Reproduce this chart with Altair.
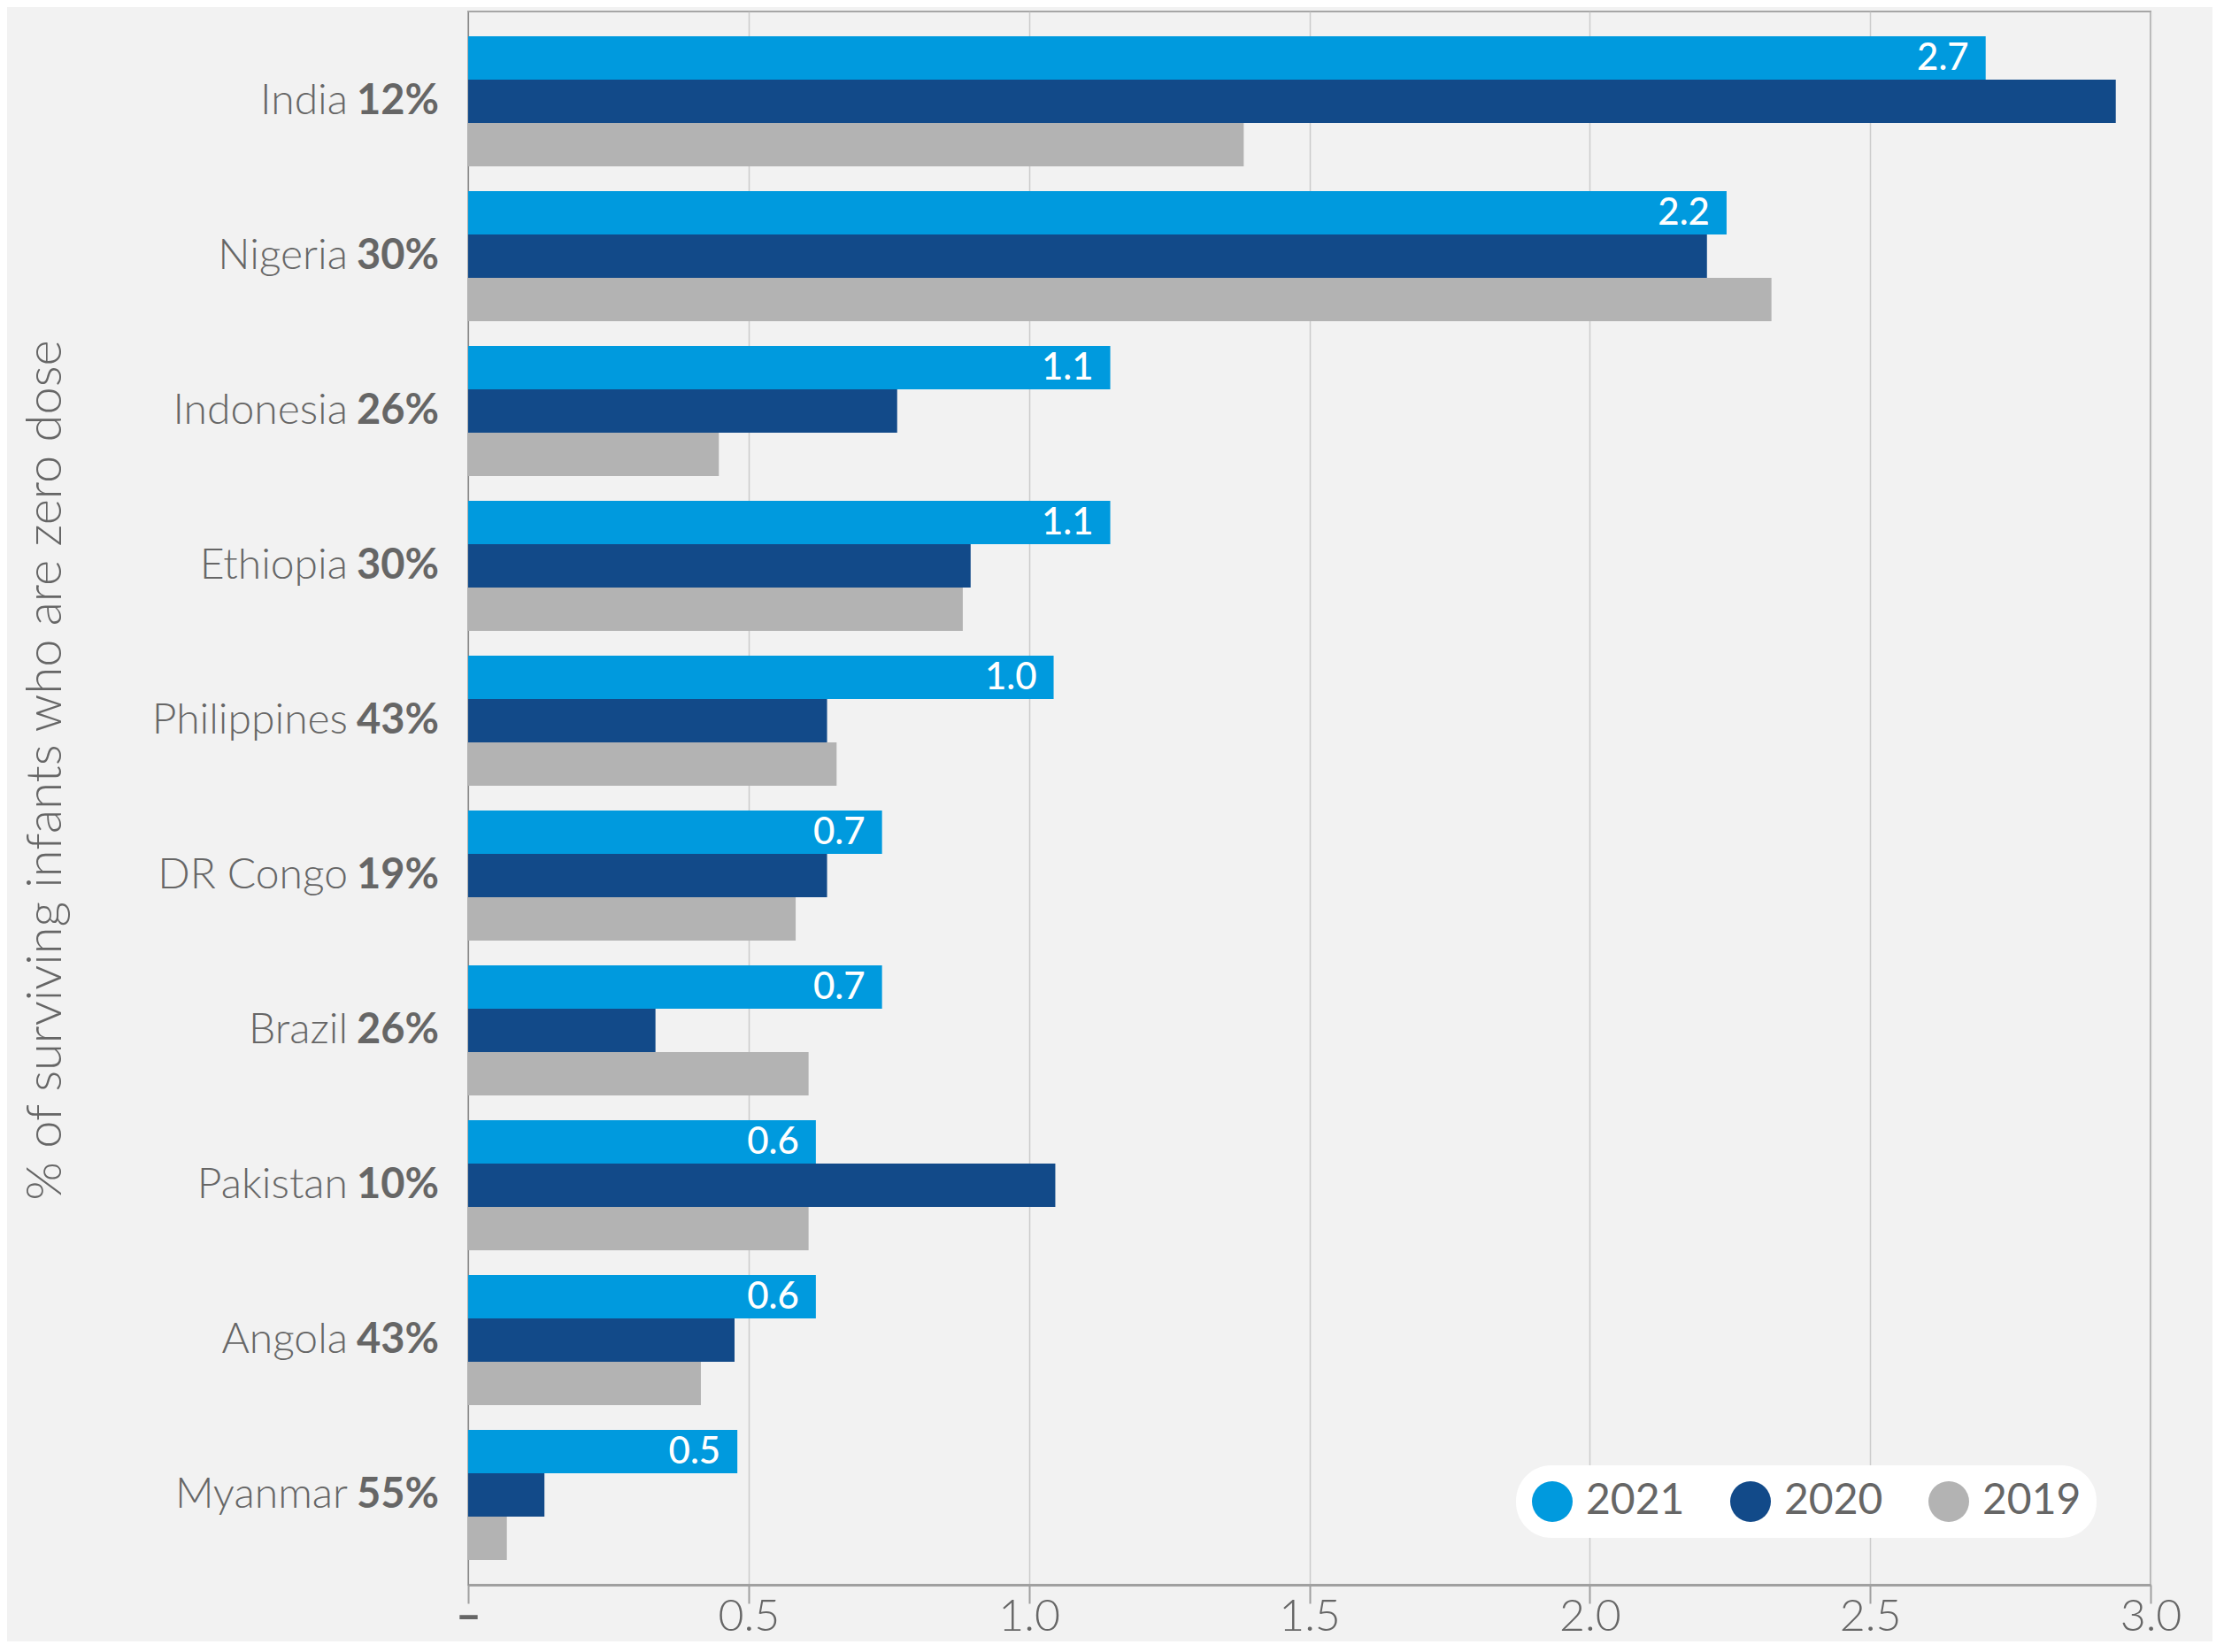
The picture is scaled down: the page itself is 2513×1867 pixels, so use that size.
import altair as alt
import pandas as pd

countries = ["India", "Nigeria", "Indonesia", "Ethiopia", "Philippines",
             "DR Congo", "Brazil", "Pakistan", "Angola", "Myanmar"]
pct_labels = ["12%", "30%", "26%", "30%", "43%", "19%", "26%", "10%", "43%", "55%"]
years = ["2021", "2020", "2019"]
v2021 = [2.706, 2.244, 1.145, 1.145, 1.044, 0.738, 0.738, 0.620, 0.620, 0.480]
v2020 = [2.938, 2.209, 0.765, 0.896, 0.640, 0.640, 0.334, 1.047, 0.475, 0.136]
v2019 = [1.383, 2.324, 0.447, 0.882, 0.657, 0.584, 0.607, 0.607, 0.415, 0.069]
colors = ["#009ADE", "#124A89", "#B3B3B3"]
x_ticks = [0, 0.5, 1.0, 1.5, 2.0, 2.5, 3.0]

FONT = "Lato"
GREY = "#666666"

rows = []
for yr, vals in zip(years, [v2021, v2020, v2019]):
    for c, v in zip(countries, vals):
        rows.append({"country": c, "year": yr, "value": v})
df = pd.DataFrame(rows)
lab_df = pd.DataFrame({"country": countries, "pct": pct_labels})

y_enc = alt.Y("country:N", sort=countries,
              scale=alt.Scale(paddingInner=0.16, paddingOuter=0.16),
              axis=alt.Axis(labels=False, ticks=False, grid=False,
                            title="% of surviving infants who are zero dose",
                            titleX=-461, titleY=857, titleAngle=-90,
                            titleAlign="center", titleBaseline="alphabetic",
                            titleFont=FONT, titleFontSize=56, titleFontWeight=300,
                            titleColor=GREY))
yoff_enc = alt.YOffset("year:N", sort=years, scale=alt.Scale(domain=years))
x_enc = alt.X("value:Q",
              scale=alt.Scale(domain=[0, 3], nice=False, zero=True),
              axis=alt.Axis(values=x_ticks, title=None, labelFlush=False,
                            labelExpr="datum.value == 0 ? '\u2013' : format(datum.value, '.1f')",
                            labelFont=FONT, labelFontSize=50,
                            labelFontWeight={"condition": {"test": "datum.value == 0", "value": 900},
                                             "value": 300},
                            labelColor=GREY, labelBaseline="alphabetic",
                            labelPadding=30, tickSize=21, tickColor="#a0a0a0",
                            tickWidth=2, domainColor="#a0a0a0", domainWidth=3,
                            grid=True, gridColor="#cccccc", gridWidth=1.5))

bars = alt.Chart(df).mark_bar().encode(
    x=x_enc,
    y=y_enc,
    yOffset=yoff_enc,
    color=alt.Color("year:N", scale=alt.Scale(domain=years, range=colors),
                    legend=alt.Legend(orient="none", legendX=1184, legendY=1643,
                                      direction="horizontal", title=None,
                                      symbolType="circle", symbolSize=2116,
                                      symbolStrokeWidth=0, symbolOpacity=1,
                                      labelFont=FONT, labelFontSize=48,
                                      labelFontWeight=400, labelColor=GREY,
                                      fillColor="white", cornerRadius=40,
                                      padding=17, columnPadding=50, labelOffset=14)),
)

values_txt = alt.Chart(df).transform_filter(alt.datum.year == "2021").mark_text(
    align="right", baseline="middle", dx=-19, color="white",
    font=FONT, fontSize=42, fontWeight=500,
).encode(
    x=alt.X("value:Q"),
    y=alt.Y("country:N", sort=countries),
    yOffset=yoff_enc,
    text=alt.Text("value:Q", format=".1f"),
)

pct_txt = alt.Chart(lab_df).mark_text(
    align="right", baseline="middle", font=FONT, fontSize=47,
    fontWeight=700, color=GREY,
).encode(
    y=alt.Y("country:N", sort=countries),
    x=alt.value(-33),
    text="pct:N",
)

name_txt = alt.Chart(lab_df).mark_text(
    align="right", baseline="middle", font=FONT, fontSize=48,
    fontWeight=300, color=GREY,
).encode(
    y=alt.Y("country:N", sort=countries),
    x=alt.value(-136),
    text="country:N",
)

chart = alt.layer(bars, values_txt, pct_txt, name_txt).properties(
    width=1901, height=1778,
    autosize=alt.AutoSizeParams(type="none"),
    padding={"left": 521, "top": 5, "right": 70, "bottom": 64},
    background="#f2f2f2",
).configure_view(stroke="#a6a6a6", strokeWidth=2)

chart.save("out.html", embed_options={"renderer": "svg", "actions": False})
